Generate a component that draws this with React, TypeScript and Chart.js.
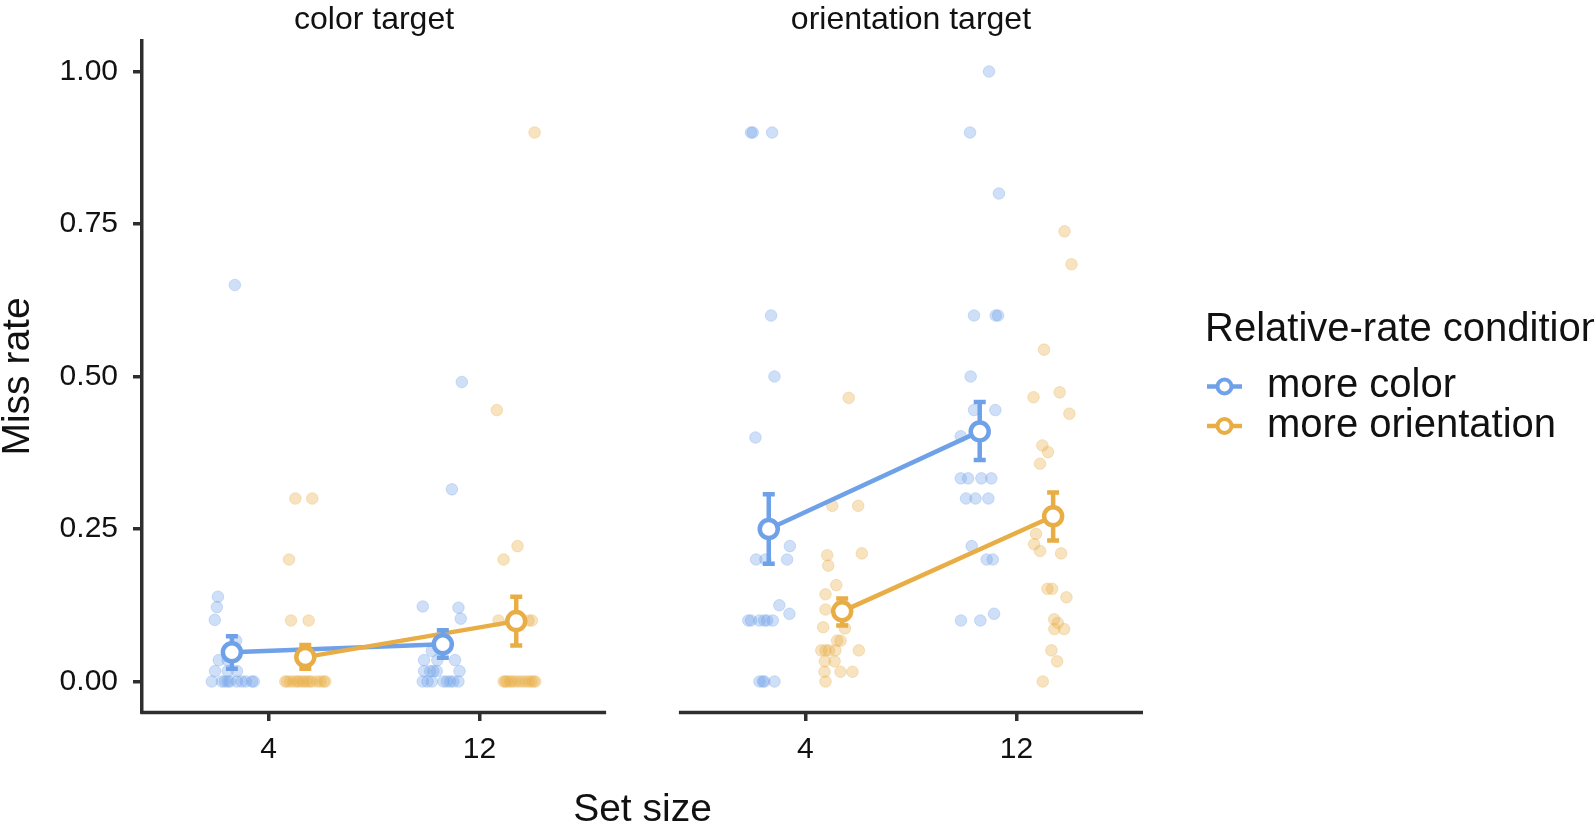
import React, { useEffect, useRef } from 'react';
import { Chart, registerables } from 'chart.js';

Chart.register(...registerables);

// ---------- data ----------
const facetTitles = ['color target', 'orientation target'];
const setSizeLabels = ['4', '12'];
const conditionNames = ['more color', 'more orientation'];
const yTickValues = [0, 0.25, 0.5, 0.75, 1.0];

// means per set size [4, 12]
const meanColorTgtMoreColor = [0.048, 0.061];
const meanColorTgtMoreOrient = [0.040, 0.099];
const meanOrientTgtMoreColor = [0.250, 0.410];
const meanOrientTgtMoreOrient = [0.115, 0.271];

// error bar lower / upper limits per set size [4, 12]
const lowColorTgtMoreColor = [0.021, 0.039];
const highColorTgtMoreColor = [0.074, 0.084];
const lowColorTgtMoreOrient = [0.021, 0.059];
const highColorTgtMoreOrient = [0.060, 0.139];
const lowOrientTgtMoreColor = [0.193, 0.363];
const highOrientTgtMoreColor = [0.307, 0.458];
const lowOrientTgtMoreOrient = [0.092, 0.231];
const highOrientTgtMoreOrient = [0.136, 0.310];

// individual miss rates (values) and their horizontal jitter (in category units)
const ctMc4Values = [0.65, 0.139, 0.122, 0.101, 0.067, 0.035, 0.035, 0.017, 0.017, 0.017, 0, 0, 0, 0, 0, 0, 0, 0, 0, 0];
const ctMc4Jitter = [0.014, -0.066, -0.071, -0.081, 0.02, -0.062, -0.02, -0.08, -0.02, 0.024, -0.095, -0.047, -0.033, -0.019, -0.009, 0.024, 0.047, 0.066, 0.095, 0.104];

const ctMo4Values = [0.3, 0.3, 0.2, 0.1, 0.1, 0, 0, 0, 0, 0, 0, 0, 0, 0, 0, 0, 0, 0, 0, 0];
const ctMo4Jitter = [-0.047, 0.033, -0.077, -0.068, 0.016, -0.095, -0.087, -0.071, -0.055, -0.04, -0.032, -0.016, -0.005, 0.008, 0.02, 0.032, 0.055, 0.071, 0.087, 0.095];

const ctMc12Values = [0.491, 0.315, 0.123, 0.121, 0.103, 0.05, 0.035, 0.035, 0.035, 0.017, 0.017, 0.017, 0.017, 0.017, 0, 0, 0, 0, 0, 0, 0, 0];
const ctMc12Jitter = [0.09, 0.043, -0.095, 0.074, 0.085, -0.052, -0.089, -0.026, 0.058, -0.089, -0.06, -0.045, -0.029, 0.079, -0.095, -0.073, -0.052, 0.003, 0.019, 0.035, 0.05, 0.074];

const ctMo12Values = [0.9, 0.445, 0.222, 0.2, 0.1, 0.1, 0.1, 0, 0, 0, 0, 0, 0, 0, 0, 0, 0, 0, 0, 0];
const ctMo12Jitter = [0.087, -0.092, 0.006, -0.06, -0.084, 0.058, 0.074, -0.06, -0.052, -0.044, -0.03, -0.02, -0.005, 0.011, 0.027, 0.043, 0.058, 0.07, 0.082, 0.09];

const otMc4Values = [0.9, 0.9, 0.9, 0.6, 0.5, 0.4, 0.222, 0.2, 0.2, 0.2, 0.125, 0.111, 0.1, 0.1, 0.1, 0.1, 0.1, 0.1, 0, 0, 0, 0];
const otMc4Jitter = [-0.084, -0.076, 0.016, 0.011, 0.027, -0.063, 0.1, -0.06, -0.016, 0.087, 0.05, 0.098, -0.097, -0.084, -0.044, -0.021, -0.008, 0.019, -0.044, -0.028, -0.021, 0.027];

const otMo4Values = [0.465, 0.288, 0.288, 0.207, 0.19, 0.21, 0.158, 0.143, 0.118, 0.089, 0.087, 0.067, 0.067, 0.051, 0.051, 0.051, 0.051, 0.051, 0.033, 0.033, 0.016, 0.016, 0.016, 0];
const otMo4Jitter = [0.031, -0.047, 0.076, -0.071, -0.066, 0.093, -0.028, -0.079, -0.079, -0.09, 0.013, -0.024, -0.008, -0.099, -0.079, -0.063, -0.032, 0.079, -0.082, -0.036, -0.084, -0.008, 0.049, -0.079];

const otMc12Values = [1.0, 0.9, 0.8, 0.6, 0.6, 0.6, 0.5, 0.445, 0.445, 0.402, 0.333, 0.333, 0.333, 0.333, 0.3, 0.3, 0.3, 0.222, 0.2, 0.2, 0.111, 0.1, 0.1];
const otMc12Jitter = [0.044, -0.046, 0.091, -0.027, 0.076, 0.087, -0.043, -0.027, 0.074, -0.09, -0.09, -0.055, 0.008, 0.055, -0.065, -0.02, 0.041, -0.038, 0.033, 0.062, 0.068, -0.089, 0.003];

const otMo12Values = [0.738, 0.684, 0.544, 0.466, 0.474, 0.439, 0.387, 0.376, 0.357, 0.242, 0.225, 0.214, 0.21, 0.152, 0.152, 0.138, 0.102, 0.096, 0.086, 0.086, 0.051, 0.033, 0];
const otMo12Jitter = [0.054, 0.087, -0.043, -0.093, 0.031, 0.077, -0.051, -0.024, -0.062, -0.081, -0.09, -0.062, 0.038, -0.027, -0.005, 0.063, 0.005, 0.022, 0.006, 0.052, -0.008, 0.019, -0.049];

// ---------- styling / layout constants ----------
const FONT = "'Liberation Sans', Arial, Helvetica, sans-serif";
const BLUE = [111, 161, 233];
const ORANGE = [232, 173, 68];
const AXIS = '#2e2e2e';
const TEXT = '#111111';
const rgba = (c: number[], a: number) => `rgba(${c[0]},${c[1]},${c[2]},${a})`;

const X_MIN = 0.4; // discrete-axis expansion (0.6 each side)
const X_MAX = 2.6;
const PANEL_GAP = 0.345;
const PANEL_SPAN = X_MAX - X_MIN + PANEL_GAP;
const panelOffsets = [0, PANEL_SPAN];
const DODGE = [-0.174, 0.174];

const colors = [BLUE, ORANGE];

const jitterGroups = [
  // [facet, condition, setSizeIndex, values, jitter]
  [0, 0, 0, ctMc4Values, ctMc4Jitter],
  [0, 0, 1, ctMc12Values, ctMc12Jitter],
  [1, 0, 0, otMc4Values, otMc4Jitter],
  [1, 0, 1, otMc12Values, otMc12Jitter],
  [0, 1, 0, ctMo4Values, ctMo4Jitter],
  [0, 1, 1, ctMo12Values, ctMo12Jitter],
  [1, 1, 0, otMo4Values, otMo4Jitter],
  [1, 1, 1, otMo12Values, otMo12Jitter],
] as const;

const summary = [
  [
    { mean: meanColorTgtMoreColor, low: lowColorTgtMoreColor, high: highColorTgtMoreColor },
    { mean: meanColorTgtMoreOrient, low: lowColorTgtMoreOrient, high: highColorTgtMoreOrient },
  ],
  [
    { mean: meanOrientTgtMoreColor, low: lowOrientTgtMoreColor, high: highOrientTgtMoreColor },
    { mean: meanOrientTgtMoreOrient, low: lowOrientTgtMoreOrient, high: highOrientTgtMoreOrient },
  ],
];

const xPos = (facet: number, cond: number, s: number) => panelOffsets[facet] + s + 1 + DODGE[cond];

function buildDatasets() {
  const datasets: any[] = [];
  for (let cond = 0; cond < 2; cond++) {
    const pts: any[] = [];
    jitterGroups.forEach((g) => {
      const [facet, c, s, vals, jit] = g as any;
      if (c !== cond) return;
      vals.forEach((v: number, i: number) => pts.push({ x: xPos(facet, cond, s) + jit[i], y: v }));
    });
    datasets.push({
      type: 'scatter',
      label: conditionNames[cond] + ' (individual)',
      data: pts,
      pointRadius: 5.8,
      pointHoverRadius: 5.8,
      backgroundColor: rgba(colors[cond], 0.34),
      borderColor: rgba(colors[cond], 0.3),
      borderWidth: 1,
      order: 10 - cond,
    });
  }
  for (let cond = 0; cond < 2; cond++) {
    for (let facet = 0; facet < 2; facet++) {
      const sm = summary[facet][cond];
      datasets.push({
        type: 'line',
        label: conditionNames[cond] + ' line ' + facet,
        data: setSizeLabels.map((_, s) => ({ x: xPos(facet, cond, s), y: sm.mean[s] })),
        borderColor: rgba(colors[cond], 1),
        borderWidth: 4.5,
        pointRadius: 0,
        fill: false,
        tension: 0,
        order: 6 - cond,
      });
    }
  }
  for (let cond = 0; cond < 2; cond++) {
    const data: any[] = [];
    const errLow: number[] = [];
    const errHigh: number[] = [];
    for (let facet = 0; facet < 2; facet++) {
      const sm = summary[facet][cond];
      setSizeLabels.forEach((_, s) => {
        data.push({ x: xPos(facet, cond, s), y: sm.mean[s] });
        errLow.push(sm.low[s]);
        errHigh.push(sm.high[s]);
      });
    }
    datasets.push({
      type: 'scatter',
      label: conditionNames[cond],
      data,
      errLow,
      errHigh,
      pointRadius: 9,
      pointHoverRadius: 9,
      backgroundColor: '#ffffff',
      borderColor: rgba(colors[cond], 1),
      borderWidth: 4.5,
      order: 2 - cond,
    });
  }
  return datasets;
}

const errorBarPlugin = {
  id: 'errorBars',
  beforeDatasetDraw(chart: any, args: any) {
    const ds = chart.data.datasets[args.index];
    if (!ds.errLow) return;
    const { ctx } = chart;
    const xs = chart.scales.x;
    const ys = chart.scales.y;
    ctx.save();
    ctx.strokeStyle = ds.borderColor;
    ctx.lineWidth = 4.5;
    ctx.lineCap = 'butt';
    ds.data.forEach((pt: any, i: number) => {
      const px = xs.getPixelForValue(pt.x);
      const yLo = ys.getPixelForValue(ds.errLow[i]);
      const yHi = ys.getPixelForValue(ds.errHigh[i]);
      ctx.beginPath();
      ctx.moveTo(px, yLo + 2);
      ctx.lineTo(px, yHi - 2);
      ctx.moveTo(px - 6, yLo);
      ctx.lineTo(px + 6, yLo);
      ctx.moveTo(px - 6, yHi);
      ctx.lineTo(px + 6, yHi);
      ctx.stroke();
    });
    ctx.restore();
  },
};

const decorPlugin = {
  id: 'facetDecor',
  afterDraw(chart: any) {
    const { ctx, chartArea } = chart;
    const xs = chart.scales.x;
    ctx.save();
    ctx.strokeStyle = AXIS;
    ctx.lineWidth = 3.5;
    panelOffsets.forEach((off, f) => {
      const x0 = xs.getPixelForValue(off + X_MIN);
      const x1 = xs.getPixelForValue(off + X_MAX);
      ctx.beginPath();
      ctx.moveTo(x0 - (f === 0 ? 1.75 : 0), chartArea.bottom + 0.5);
      ctx.lineTo(x1, chartArea.bottom + 0.5);
      ctx.stroke();
    });
    // facet strip titles
    ctx.fillStyle = TEXT;
    ctx.font = `32px ${FONT}`;
    ctx.textAlign = 'center';
    ctx.textBaseline = 'alphabetic';
    facetTitles.forEach((t, f) => {
      const cx = xs.getPixelForValue(panelOffsets[f] + (X_MIN + X_MAX) / 2);
      ctx.fillText(t, cx, chartArea.top - 12);
    });
    // legend
    const lx = chartArea.right + 62;
    ctx.textAlign = 'left';
    ctx.font = `40px ${FONT}`;
    ctx.fillText('Relative-rate condition', lx, chartArea.top + 300);
    conditionNames.forEach((name, c) => {
      const rowY = chartArea.top + 345.5 + c * 39.5;
      ctx.strokeStyle = rgba(colors[c], 1);
      ctx.lineWidth = 4.5;
      ctx.beginPath();
      ctx.moveTo(lx + 2, rowY);
      ctx.lineTo(lx + 37, rowY);
      ctx.stroke();
      ctx.beginPath();
      ctx.arc(lx + 19.5, rowY, 7, 0, Math.PI * 2);
      ctx.fillStyle = '#ffffff';
      ctx.fill();
      ctx.lineWidth = 4;
      ctx.stroke();
      ctx.fillStyle = TEXT;
      ctx.fillText(name, lx + 62, rowY + 10.5);
    });
    ctx.restore();
  },
};

export default function App() {
  const canvasRef = useRef<HTMLCanvasElement | null>(null);

  useEffect(() => {
    document.body.style.margin = '0';
    const canvas = canvasRef.current;
    if (!canvas) return;
    const chart = new Chart(canvas, {
      type: 'scatter',
      data: { datasets: buildDatasets() },
      options: {
        animation: false,
        responsive: false,
        devicePixelRatio: 1,
        layout: { padding: { left: 0, right: 451, top: 41, bottom: 0 } },
        plugins: {
          legend: { display: false },
          tooltip: { enabled: false },
        },
        scales: {
          x: {
            type: 'linear',
            min: X_MIN,
            max: X_MAX + PANEL_SPAN,
            afterBuildTicks: (scale: any) => {
              scale.ticks = [];
              panelOffsets.forEach((off) => setSizeLabels.forEach((_, s) => scale.ticks.push({ value: off + s + 1 })));
            },
            afterFit: (scale: any) => {
              scale.height = 110;
            },
            ticks: {
              autoSkip: false,
              maxRotation: 0,
              padding: 11,
              color: TEXT,
              font: { family: FONT, size: 30 },
              callback: (_v: any, i: number) => setSizeLabels[i % setSizeLabels.length],
            },
            grid: {
              display: true,
              drawOnChartArea: false,
              drawTicks: true,
              tickLength: 9,
              lineWidth: 3.5,
              color: AXIS,
            },
            border: { display: false },
            title: {
              display: true,
              text: 'Set size',
              color: TEXT,
              padding: 0,
              font: { family: FONT, size: 39, lineHeight: 0.58 },
            },
          },
          y: {
            type: 'linear',
            min: -0.05,
            max: 1.05,
            afterBuildTicks: (scale: any) => {
              scale.ticks = yTickValues.map((v) => ({ value: v }));
            },
            afterFit: (scale: any) => {
              scale.width = 142;
            },
            ticks: {
              padding: 15,
              color: TEXT,
              font: { family: FONT, size: 30 },
              callback: (v: any) => Number(v).toFixed(2),
            },
            grid: {
              display: true,
              drawOnChartArea: false,
              drawTicks: true,
              tickLength: 9,
              lineWidth: 3.5,
              color: AXIS,
            },
            border: { display: true, width: 3.5, color: AXIS },
            title: {
              display: true,
              text: 'Miss rate',
              color: TEXT,
              padding: 0,
              font: { family: FONT, size: 39, lineHeight: 0.95 },
            },
          },
        },
      },
      plugins: [errorBarPlugin, decorPlugin],
    } as any);
    return () => chart.destroy();
  }, []);

  return (
    <div style={{ position: 'fixed', left: 0, top: 0, width: 1594, height: 822, background: '#ffffff' }}>
      <canvas ref={canvasRef} width={1594} height={822} style={{ display: 'block' }} />
    </div>
  );
}
